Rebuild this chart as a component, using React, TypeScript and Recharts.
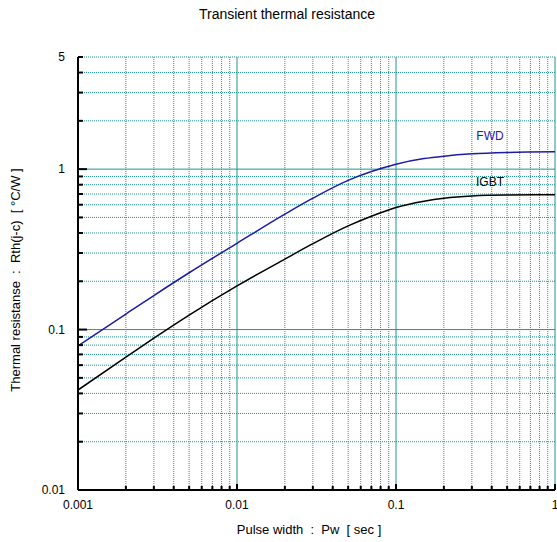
import React from "react";
import {
  LineChart,
  Line,
  XAxis,
  YAxis,
  CartesianGrid,
  ReferenceDot,
} from "recharts";

// pulse width [sec]
const pulseWidth = [0.001, 0.002, 0.003, 0.005, 0.01, 0.02, 0.03, 0.05, 0.07, 0.1, 0.15, 0.2, 0.3, 0.5, 1];
// Rth(j-c) [°C/W]
const fwd = [0.079, 0.125, 0.163, 0.226, 0.345, 0.524, 0.659, 0.851, 0.966, 1.074, 1.164, 1.205, 1.245, 1.27, 1.282];
const igbt = [0.042, 0.0673, 0.0883, 0.123, 0.187, 0.275, 0.343, 0.443, 0.509, 0.577, 0.631, 0.659, 0.681, 0.69, 0.692];

const xMajor = [0.001, 0.01, 0.1, 1];
const xMinor = [
  0.002, 0.003, 0.004, 0.005, 0.006, 0.007, 0.008, 0.009,
  0.02, 0.03, 0.04, 0.05, 0.06, 0.07, 0.08, 0.09,
  0.2, 0.3, 0.4, 0.5, 0.6, 0.7, 0.8, 0.9,
];
const yMajor = [0.01, 0.1, 1];
const yMinor = [
  0.02, 0.03, 0.04, 0.05, 0.06, 0.07, 0.08, 0.09,
  0.2, 0.3, 0.4, 0.5, 0.6, 0.7, 0.8, 0.9,
  2, 3, 4, 5,
];
const xTicks = [...xMajor, ...xMinor].sort((a, b) => a - b);
const yTicks = [...yMajor, ...yMinor].sort((a, b) => a - b);
const yLabels = [0.01, 0.1, 1, 5];

const data = pulseWidth.map((pw, i) => ({ pw, fwd: fwd[i], igbt: igbt[i] }));

const FONT = "'Liberation Sans', Arial, sans-serif";
const GRID = "#239393";

const isMajor = (arr: number[], v: number) => arr.some((m) => Math.abs(m - v) < 1e-9);

const leftTick = (props: any) => {
  const { x, y, payload } = props;
  const v = payload.value;
  const len = isMajor(yMajor, v) ? 9 : 5;
  return (
    <g>
      <line x1={x} x2={x + len} y1={y} y2={y} stroke="#000" strokeWidth={2} />
      {isMajor(yLabels, v) && (
        <text x={x - 13} y={y} dy={4} textAnchor="end" fontSize={12} fontFamily={FONT} fill="#000">
          {v}
        </text>
      )}
    </g>
  );
};

const rightTick = (props: any) => {
  const { x, y, payload } = props;
  const len = isMajor(yMajor, payload.value) ? 9 : 5;
  return <line x1={x - len} x2={x} y1={y} y2={y} stroke="#000" strokeWidth={2} />;
};

const bottomTick = (props: any) => {
  const { x, y, payload } = props;
  const v = payload.value;
  const len = isMajor(xMajor, v) ? 6 : 4;
  return (
    <g>
      <line x1={x} x2={x} y1={y} y2={y - len} stroke="#000" strokeWidth={2} />
      {isMajor(xMajor, v) && (
        <text x={x} y={y + 19} textAnchor="middle" fontSize={12} fontFamily={FONT} fill="#000">
          {v}
        </text>
      )}
    </g>
  );
};

const topTick = (props: any) => {
  const { x, y, payload } = props;
  const len = isMajor(xMajor, payload.value) ? 6 : 4;
  return <line x1={x} x2={x} y1={y} y2={y + len} stroke="#000" strokeWidth={2} />;
};

export default function App() {
  return (
    <div style={{ position: "absolute", left: 0, top: 0, width: 557, height: 542, background: "#fff" }}>
      <LineChart width={557} height={542} data={data} margin={{ top: 57, right: 2, left: 0, bottom: 0 }}>
        <CartesianGrid
          horizontalValues={yMinor}
          verticalValues={xMinor}
          stroke={GRID}
          strokeDasharray="1 1"
        />
        <CartesianGrid horizontalValues={yMajor} verticalValues={xMajor} stroke={GRID} />
        <XAxis
          dataKey="pw"
          type="number"
          scale="log"
          domain={[0.001, 1]}
          allowDataOverflow
          ticks={xTicks}
          interval={0}
          tickSize={0}
          tickMargin={0}
          height={52}
          axisLine={{ stroke: "#000", strokeWidth: 2 }}
          tickLine={false}
          tick={bottomTick}
        />
        <XAxis
          xAxisId="top"
          orientation="top"
          dataKey="pw"
          type="number"
          scale="log"
          domain={[0.001, 1]}
          allowDataOverflow
          ticks={xTicks}
          interval={0}
          tickSize={0}
          tickMargin={0}
          height={0}
          axisLine={{ stroke: "#000", strokeWidth: 2 }}
          tickLine={false}
          tick={topTick}
        />
        <YAxis
          type="number"
          scale="log"
          domain={[0.01, 5]}
          allowDataOverflow
          ticks={yTicks}
          interval={0}
          tickSize={0}
          tickMargin={0}
          width={78}
          axisLine={{ stroke: "#000", strokeWidth: 2 }}
          tickLine={false}
          tick={leftTick}
        />
        <YAxis
          yAxisId="right"
          orientation="right"
          type="number"
          scale="log"
          domain={[0.01, 5]}
          allowDataOverflow
          ticks={yTicks}
          interval={0}
          tickSize={0}
          tickMargin={0}
          width={0}
          axisLine={{ stroke: "#000", strokeWidth: 2 }}
          tickLine={false}
          tick={rightTick}
        />
        <Line
          type="monotone"
          dataKey="fwd"
          stroke="#1c1ca8"
          strokeWidth={1.5}
          dot={false}
          isAnimationActive={false}
        />
        <Line
          type="monotone"
          dataKey="igbt"
          stroke="#000"
          strokeWidth={1.5}
          dot={false}
          isAnimationActive={false}
        />
        <ReferenceDot
          x={0.39}
          y={1.61}
          r={0}
          label={{ value: "FWD", fill: "#1c1ca8", fontSize: 12, fontFamily: FONT }}
        />
        <ReferenceDot
          x={0.39}
          y={0.83}
          r={0}
          label={{ value: "IGBT", fill: "#000", fontSize: 12, fontFamily: FONT }}
        />
      </LineChart>
      <svg
        width={557}
        height={542}
        style={{ position: "absolute", left: 0, top: 0, pointerEvents: "none" }}
      >
        <text x={287} y={19} textAnchor="middle" fontSize={14} fontFamily={FONT} fill="#000">
          Transient thermal resistance
        </text>
        <text x={309} y={534} textAnchor="middle" fontSize={13} fontFamily={FONT} fill="#000" xmlSpace="preserve">
          {"Pulse width  :  Pw  [ sec ]"}
        </text>
        <text
          x={0}
          y={0}
          transform="translate(20,280) rotate(-90)"
          textAnchor="middle"
          fontSize={13}
          fontFamily={FONT}
          fill="#000"
          xmlSpace="preserve"
        >
          {"Thermal resistanse  :  Rth(j-c)  [ °C/W ]"}
        </text>
      </svg>
    </div>
  );
}
